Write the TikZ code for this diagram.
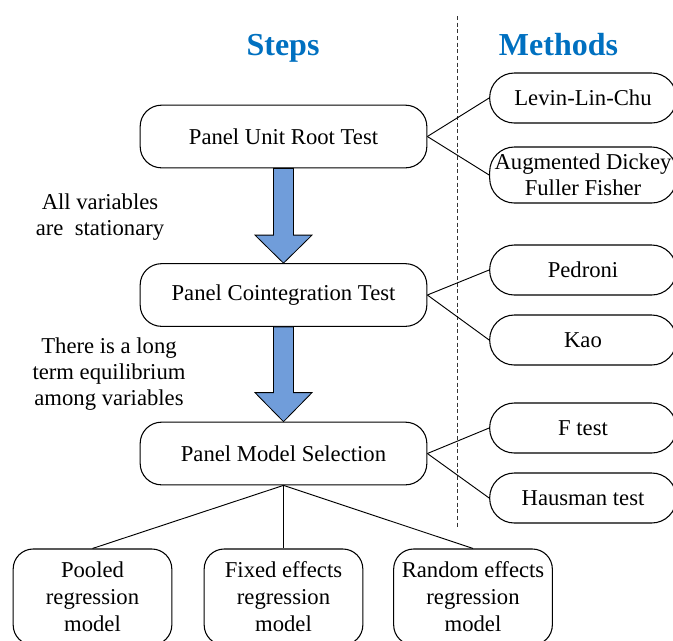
\documentclass[tikz,border=0pt]{standalone}
\usepackage{fontspec}
\setmainfont{Liberation Serif}
\newfontfamily\tnr{Liberation Serif}
\usetikzlibrary{calc}
\definecolor{titleblue}{RGB}{0,112,192}
\definecolor{arrowblue}{RGB}{112,157,218}
\tikzset{
  stepbox/.style={draw=black, line width=0.8pt, rounded corners=16pt, minimum width=215pt, minimum height=47pt, inner sep=0pt, font=\tnr\fontsize{17}{19.5}\selectfont},
  methodbox/.style={draw=black, line width=0.8pt, rounded corners=18.5pt, minimum width=140pt, minimum height=37.5pt, inner sep=0pt, align=center, font=\tnr\fontsize{17}{19.5}\selectfont},
  modelbox/.style={draw=black, line width=0.8pt, rounded corners=15pt, minimum width=119pt, minimum height=72pt, inner sep=0pt, align=center, font=\tnr\fontsize{17}{20.3}\selectfont},
  title/.style={font=\tnr\fontsize{24}{28}\selectfont\bfseries, text=titleblue, anchor=base},
  note/.style={align=center, font=\tnr\fontsize{17}{19.5}\selectfont},
  link/.style={draw=black, line width=0.7pt},
  bigarrow/.style={draw=black, line width=0.6pt, fill=arrowblue},
}
\begin{document}
\begin{tikzpicture}[x=0.75pt, y=-0.75pt]
\useasboundingbox (0,0) rectangle (673,640);
\clip (0,0) rectangle (673,640);
% titles
\node[title] (steps) at (283,55) {Steps};
\node[title] (methods) at (558.5,55) {Methods};
% dashed separator
\coordinate (dtop) at (457.5,16);
\coordinate (dbot) at (457.5,528);
\draw[black!80, line width=0.7pt, dash pattern=on 3pt off 2pt] (dtop) -- (dbot);
% step boxes
\node[stepbox] (b1) at (283.5,136.5) {Panel Unit Root Test};
\node[stepbox] (b2) at (283.5,295) {Panel Cointegration Test};
\node[stepbox] (b3) at (283.5,453.5) {Panel Model Selection};
% method boxes
\node[methodbox] (r1) at (583,98) {Levin-Lin-Chu};
\node[methodbox, minimum height=42pt] (r2) at (583,175) {Augmented Dickey\\Fuller Fisher};
\node[methodbox] (r3) at (583,270) {Pedroni};
\node[methodbox] (r4) at (583,340) {Kao};
\node[methodbox] (r5) at (583,428) {F test};
\node[methodbox] (r6) at (583,498) {Hausman test};
% model boxes
\node[modelbox] (m1) at (92.5,597) {Pooled\\regression\\model};
\node[modelbox] (m2) at (283.5,597) {Fixed effects\\regression\\model};
\node[modelbox] (m3) at (473,597) {Random effects\\regression\\model};
% notes
\node[note] (n1) at (100,217) {All variables\\are\ \ stationary};
\node[note] (n2) at (109,374) {There is a long\\term equilibrium\\among variables};
% connectors
\draw[link] (b1.east) -- (r1.west);
\draw[link] (b1.east) -- (r2.west);
\draw[link] (b2.east) -- (r3.west);
\draw[link] (b2.east) -- (r4.west);
\draw[link] (b3.east) -- (r5.west);
\draw[link] (b3.east) -- (r6.west);
\draw[link] (b3.south) -- (m1.north);
\draw[link] (b3.south) -- (m2.north);
\draw[link] (b3.south) -- (m3.north);
% block arrows
\draw[bigarrow] ($(b1.south)+(-10,0)$) -- ($(b1.south)+(10,0)$) -- ($(b2.north)+(10,-28)$) -- ($(b2.north)+(28.5,-28)$) -- (b2.north) -- ($(b2.north)+(-28.5,-28)$) -- ($(b2.north)+(-10,-28)$) -- cycle;
\draw[bigarrow] ($(b2.south)+(-10,0)$) -- ($(b2.south)+(10,0)$) -- ($(b3.north)+(10,-29)$) -- ($(b3.north)+(28.5,-29)$) -- (b3.north) -- ($(b3.north)+(-28.5,-29)$) -- ($(b3.north)+(-10,-29)$) -- cycle;
\end{tikzpicture}
\end{document}
